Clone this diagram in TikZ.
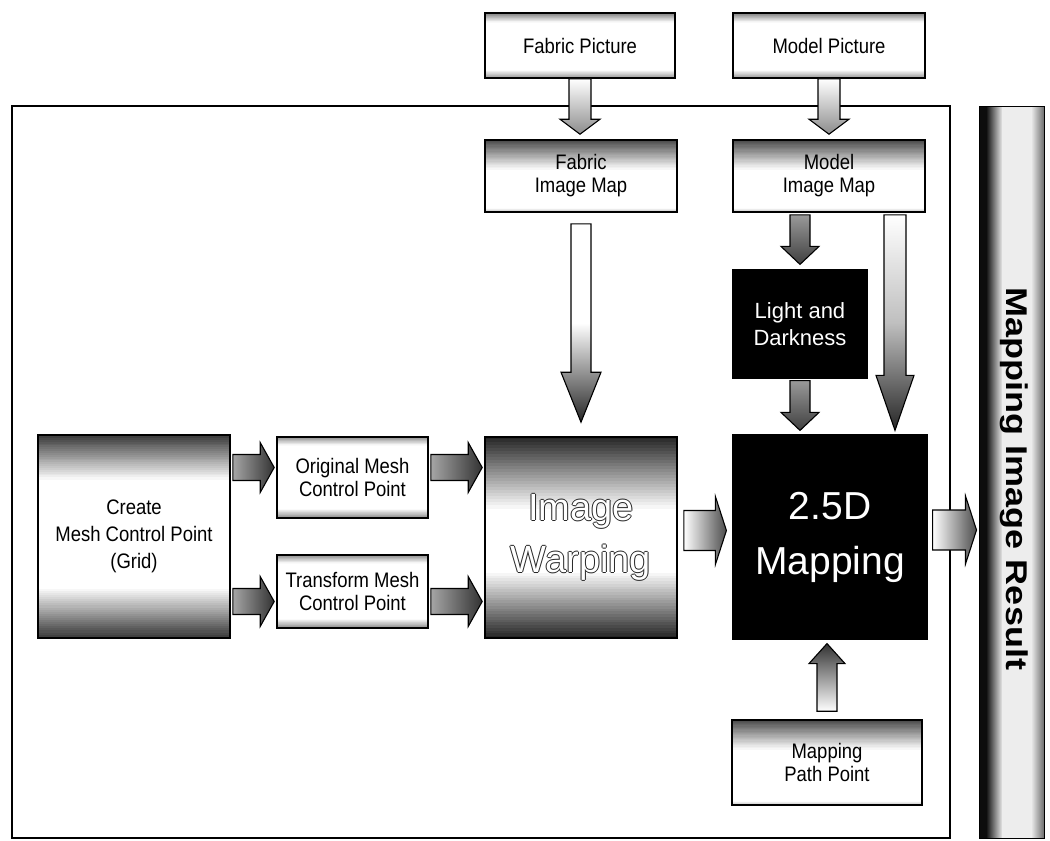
\documentclass[tikz,border=0pt]{standalone}
\usepackage{fontspec}
\setmainfont{Liberation Sans}
\newfontfamily\condf[FakeStretch=0.88]{Liberation Sans}
\newfontfamily\widef[FakeStretch=1.2]{Liberation Sans}
\usetikzlibrary{calc,backgrounds}
\newcommand\hollowtxt[1]{\leavevmode\rlap{\hspace{-1pt}\textcolor{black!85}{#1}}\rlap{\hspace{1pt}\textcolor{black!85}{#1}}\rlap{\raisebox{1pt}{\textcolor{black!85}{#1}}}\rlap{\raisebox{-1pt}{\textcolor{black!85}{#1}}}\textcolor{white}{#1}}
% graded bands behind a box: node, top darkness, top band height, bottom darkness, bottom band height
\newcommand\bandshade[5]{\begin{pgfonlayer}{background}
  \foreach \i in {0,...,23} {
    \pgfmathsetmacro\ca{#2*(1-\i/24)}
    \pgfmathsetmacro\cb{#4*(1-\i/24)}
    \fill[black!\ca] ($(#1.north west)+(0,#3*\i/24)$) rectangle ($(#1.north east)+(0,#3*\i/24+#3/24+0.3)$);
    \fill[black!\cb] ($(#1.south west)+(0,-#5*\i/24)$) rectangle ($(#1.south east)+(0,-#5*\i/24-#5/24-0.3)$);
  }
  \end{pgfonlayer}}
% block arrows: style, from, to, shaft half width, head half width, head length
\newcommand\blkdown[6]{\path[#1] let \p1=(#2), \p2=(#3) in
  (\x1-#4pt,\y1) -- (\x1+#4pt,\y1) -- (\x1+#4pt,\y2+#6pt) -- (\x1+#5pt,\y2+#6pt) -- (\x1,\y2)
  -- (\x1-#5pt,\y2+#6pt) -- (\x1-#4pt,\y2+#6pt) -- cycle;}
\newcommand\blkup[6]{\path[#1] let \p1=(#2), \p2=(#3) in
  (\x1-#4pt,\y1) -- (\x1+#4pt,\y1) -- (\x1+#4pt,\y2-#6pt) -- (\x1+#5pt,\y2-#6pt) -- (\x1,\y2)
  -- (\x1-#5pt,\y2-#6pt) -- (\x1-#4pt,\y2-#6pt) -- cycle;}
\newcommand\blkright[6]{\path[#1] let \p1=(#2), \p2=(#3) in
  (\x1,\y1+#4pt) -- (\x1,\y1-#4pt) -- (\x2-#6pt,\y1-#4pt) -- (\x2-#6pt,\y1-#5pt) -- (\x2,\y1)
  -- (\x2-#6pt,\y1+#5pt) -- (\x2-#6pt,\y1+#4pt) -- cycle;}
\tikzset{
  box/.style={draw=black, line width=1.6pt, inner sep=2pt, align=center, font=\condf\fontsize{21}{23}\selectfont},
  darkbox/.style={draw=black, fill=black, line width=1.2pt, align=center, text=white},
  barrow/.style={draw=black, line width=1.1pt, line join=miter},
}
\begin{document}
\begin{tikzpicture}[x=1pt,y=-1pt]
\useasboundingbox (0,0) rectangle (1050,841);
% frame and result strip
\node[draw=black, line width=1.3pt, minimum width=938, minimum height=732, inner sep=0pt] (frame) at (481,472) {};
\node[fill=black!7, minimum width=65, minimum height=732, inner sep=0pt, outer sep=0pt] (strip) at (1012,472.5) {};
\foreach \i in {0,...,21} {
  \pgfmathsetmacro\ca{min(95,95-85*(\i-6)/16)}
  \fill[black!\ca] ($(strip.south west)+(\i,0)$) rectangle ($(strip.north west)+(\i+1.2,0)$);
}
\foreach \i in {0,...,13} {
  \pgfmathsetmacro\cb{7+50*\i/13}
  \fill[black!\cb] ($(strip.south east)+(-14+\i,0)$) rectangle ($(strip.north east)+(-12.8+\i,0)$);
}
\draw[line width=1.4pt] (strip.south west) rectangle (strip.north east);
\node[rotate=-90, font=\widef\bfseries\fontsize{30}{30}\selectfont] (striptext) at (1014,479) {Mapping Image Result};
% top inputs
\node[box, minimum width=190, minimum height=65] (fabpic) at (580,45.5) {Fabric Picture};
\node[box, minimum width=192, minimum height=65] (modpic) at (829,45.5) {Model Picture};
\node[box, minimum width=192, minimum height=72] (fabmap) at (581,176) {Fabric\\Image Map};
\node[box, minimum width=192, minimum height=72] (modmap) at (829,176) {Model\\Image Map};
\bandshade{fabpic}{55}{10}{45}{9}
\bandshade{modpic}{55}{10}{45}{9}
\bandshade{fabmap}{72}{30}{30}{5}
\bandshade{modmap}{72}{30}{30}{5}
% processing
\node[darkbox, minimum width=134, minimum height=108, font=\fontsize{22}{27}\selectfont] (light) at (800,324) {Light and\\Darkness};
\node[darkbox, minimum width=194, minimum height=204, font=\fontsize{39}{55}\selectfont] (map25) at (830,537) {2.5D\\Mapping};
\node[box, minimum width=192, minimum height=201, font=\fontsize{38}{52}\selectfont] (warp) at (581,537.5) {\hollowtxt{Image}\\\hollowtxt{Warping}};
\node[box, minimum width=192, minimum height=203, font=\condf\fontsize{21}{27}\selectfont] (create) at (134,536.5) {Create\\Mesh Control Point\\(Grid)};
\node[box, minimum width=151, minimum height=81] (orig) at (352.5,477.5) {Original Mesh\\Control Point};
\node[box, minimum width=151, minimum height=73] (trans) at (352.5,591.5) {Transform Mesh\\Control Point};
\node[box, minimum width=190, minimum height=85] (pathpt) at (827,762.5) {Mapping\\Path Point};
\bandshade{warp}{85}{72}{85}{66}
\bandshade{create}{78}{45}{78}{50}
\bandshade{orig}{50}{9}{50}{10}
\bandshade{trans}{50}{9}{50}{10}
\bandshade{pathpt}{72}{30}{30}{5}
% vertical block arrows
\blkdown{barrow, top color=white, bottom color=black!45}{fabpic.south}{$(fabmap.north)+(0,-5)$}{11}{20}{15}
\blkdown{barrow, top color=white, bottom color=black!45}{modpic.south}{$(modmap.north)+(0,-5)$}{11}{20}{15}
\blkdown{barrow, top color=white, bottom color=black!85, middle color=white}{$(fabmap.south)+(0,11)$}{$(warp.north)+(0,-14)$}{10}{20}{50}
\blkdown{barrow, top color=black!40, bottom color=black!75}{$(modmap.south)+(-29,2)$}{$(light.north)+(0,-5)$}{10}{19}{18}
\blkdown{barrow, top color=black!40, bottom color=black!75}{$(light.south)+(0,2)$}{$(map25.north)+(-30,-4)$}{10}{19}{18}
\blkdown{barrow, top color=white, bottom color=black!85, middle color=black!25}{$(modmap.south)+(66,2)$}{$(map25.north)+(65,-4)$}{11}{19}{55}
\blkup{barrow, top color=black!80, bottom color=white}{$(pathpt.north)+(0,-8)$}{$(map25.south)+(-3,4)$}{10}{18}{20}
% horizontal block arrows
\blkright{barrow, left color=black!35, right color=black!80}{$(create.east |- orig.west)+(2,-10)$}{$(orig.west)+(-2,-10)$}{13}{25}{14}
\blkright{barrow, left color=black!35, right color=black!80}{$(create.east |- trans.west)+(2,10)$}{$(trans.west)+(-2,10)$}{13}{25}{14}
\blkright{barrow, left color=black!35, right color=black!80}{$(orig.east)+(2,-10)$}{$(warp.west |- orig.west)+(-2,-10)$}{13}{25}{14}
\blkright{barrow, left color=black!35, right color=black!80}{$(trans.east)+(2,10)$}{$(warp.west |- trans.west)+(-2,10)$}{13}{25}{14}
\blkright{barrow, left color=white, right color=black!70}{$(warp.east)+(6,-7)$}{$(map25.west)+(-6,-7)$}{20}{34}{11}
\blkright{barrow, left color=white, right color=black!70}{$(map25.east)+(5,-7)$}{$(strip.west |- map25.east)+(-3,-7)$}{20}{34}{11}
\end{tikzpicture}
\end{document}
